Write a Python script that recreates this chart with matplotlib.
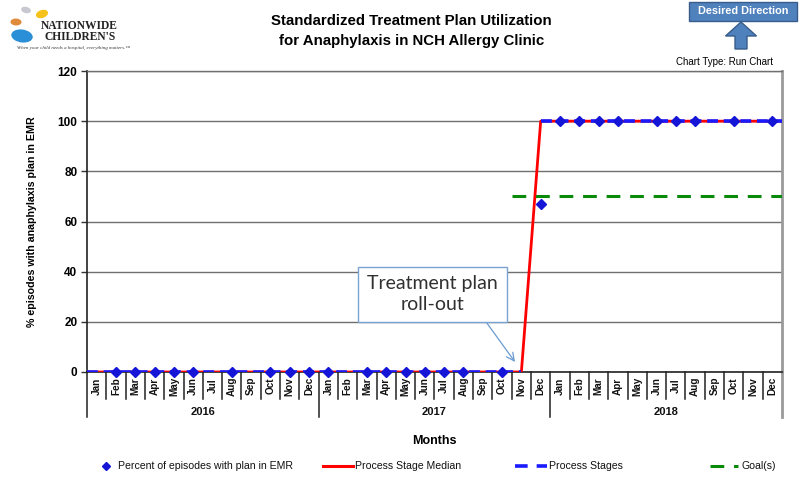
import numpy as np
import matplotlib
matplotlib.use("Agg")
import matplotlib.pyplot as plt
from matplotlib.lines import Line2D
from matplotlib.patches import FancyBboxPatch, Ellipse, FancyArrow
import matplotlib.transforms as mtrans

nan = np.nan
month_names = ['Jan', 'Feb', 'Mar', 'Apr', 'May', 'Jun',
               'Jul', 'Aug', 'Sep', 'Oct', 'Nov', 'Dec']
years = ['2016', '2017', '2018']
month_labels = month_names * len(years)

# Percent of episodes with plan in EMR
pct = [nan, 0, 0, 0, 0, 0, nan, 0, nan, 0, 0, 0,
       0, nan, 0, 0, 0, 0, 0, 0, nan, 0, nan, 67,
       100, 100, 100, 100, nan, 100, 100, 100, nan, 100, nan, 100]
# Process stage median
median = [0, 0, 0, 0, 0, 0, 0, 0, 0, 0, 0, 0,
          0, 0, 0, 0, 0, 0, 0, 0, 0, 0, 0, 100,
          100, 100, 100, 100, 100, 100, 100, 100, 100, 100, 100, 100]
# Process stage id for each month
stage_id = [1] * 23 + [2] * 13
# Goal
goal = [nan, nan, nan, nan, nan, nan, nan, nan, nan, nan, nan, nan,
        nan, nan, nan, nan, nan, nan, nan, nan, nan, nan, 70, 70,
        70, 70, 70, 70, 70, 70, 70, 70, 70, 70, 70, 70]

legend_labels = ['Percent of episodes with plan in EMR', 'Process Stage Median',
                 'Process Stages', 'Goal(s)']

sans = ['Liberation Sans', 'DejaVu Sans']

n = len(month_labels)
x = np.arange(n)
xlo, xhi = -0.5, n - 0.5

RED = '#FF0000'
BLUE = '#1a1aff'
MARK = '#1515d8'
GREEN = '#0a8a0a'
BLUE_DASH = (0, (3.0, 1.6))
GREEN_DASH = (0, (4.5, 3.2))

fig = plt.figure(figsize=(8, 4.8), dpi=100)
ax = fig.add_axes([87 / 800, 1 - 372 / 480, (782 - 87) / 800, (372 - 71) / 480])
ax.set_xlim(xlo, xhi)
ax.set_ylim(0, 120)

# grid
ax.set_yticks(np.arange(0, 121, 20))
ax.yaxis.grid(True, color='#6f6f6f', lw=1.0)
ax.set_axisbelow(True)
ax.set_xticks([])
for lab in ax.get_yticklabels():
    lab.set_fontfamily(sans)
    lab.set_fontweight('bold')
    lab.set_fontsize(8.5)
ax.tick_params(axis='y', length=4, width=1, color='#333333', pad=3)
ax.spines['left'].set_color('#222222')
ax.spines['left'].set_linewidth(1.2)
ax.spines['bottom'].set_color('#222222')
ax.spines['bottom'].set_linewidth(1.2)
ax.spines['right'].set_color('#9a9a9a')
ax.spines['right'].set_linewidth(2)
ax.spines['top'].set_color('#6f6f6f')
ax.spines['top'].set_linewidth(1.0)

# Process stage median (red), extended to plot edges
med = np.array(median, float)
ax.plot(np.r_[xlo, x, xhi], np.r_[med[0], med, med[-1]], color=RED, lw=2, zorder=3,
        solid_capstyle='butt')

# Process stages (blue dashed), one segment per stage
sid = np.array(stage_id)
stages = list(dict.fromkeys(stage_id))
for k, s in enumerate(stages):
    idx = np.where(sid == s)[0]
    xs = x[idx].astype(float)
    ys = med[idx]
    if k == 0:
        xs = np.r_[xlo, xs]
        ys = np.r_[ys[0], ys]
    if k == len(stages) - 1:
        xs = np.r_[xs, xhi]
        ys = np.r_[ys, ys[-1]]
    ax.plot(xs, ys, color=BLUE, lw=2.6, ls=BLUE_DASH, zorder=4)

# Goal (green dashed)
g = np.array(goal, float)
gidx = np.where(~np.isnan(g))[0]
ax.plot(np.r_[gidx[0] - 0.5, x[gidx], xhi], np.r_[g[gidx[0]], g[gidx], g[gidx[-1]]],
        color=GREEN, lw=2.2, ls=GREEN_DASH, zorder=3)

# data points
ax.plot(x, pct, ls='none', marker='D', ms=4.6, color=MARK, mec=MARK, zorder=5,
        clip_on=False)

# x axis month cells
tr = mtrans.blended_transform_factory(ax.transData, ax.transAxes)
for i in range(n + 1):
    b = i - 0.5
    yb = -0.15 if i % 12 == 0 else -0.09
    if i == n:
        ax.plot([b, b], [0, yb], transform=tr, color='#9a9a9a', lw=2, clip_on=False)
    else:
        ax.plot([b, b], [0, yb], transform=tr, color='#222222', lw=1.1, clip_on=False)
for i, m in enumerate(month_labels):
    ax.text(i, -0.047, m, transform=tr, rotation=90, ha='center', va='center',
            fontsize=7.2, fontweight='bold', family=sans, color='#111111')
for j, yr in enumerate(years):
    ax.text(12 * j + 5.5, -0.133, yr, transform=tr, ha='center', va='center',
            fontsize=8, fontweight='bold', family=sans, color='#111111')
ax.text(0.5, -0.228, 'Months', transform=ax.transAxes, ha='center', va='center',
        fontsize=9, fontweight='bold', family=sans)

fig.text(32 / 800, 1 - 222 / 480, '% episodes with anaphylaxis plan in EMR', rotation=90,
         ha='center', va='center', fontsize=7.7, fontweight='bold', family=sans)

# callout
ax.annotate('Treatment plan\nroll-out', xy=(21.67, 4.0), xytext=(17.4, 31.0),
            ha='center', va='center', fontsize=14, family=['Lato', 'DejaVu Sans'],
            color='#303030', linespacing=1.25,
            bbox=dict(boxstyle='square,pad=0.45', fc='white', ec='#7aa3d4', lw=1),
            arrowprops=dict(arrowstyle='->', color='#6a9bd1', lw=0.9, relpos=(0.86, 0.0),
                            shrinkA=0, shrinkB=0),
            zorder=6)

# Title
fig.text(0.514, 1 - 31 / 480, 'Standardized Treatment Plan Utilization\nfor Anaphylaxis in NCH Allergy Clinic',
         ha='center', va='center', fontsize=10.8, fontweight='bold', family=sans,
         linespacing=1.5)

# Desired direction box + arrow
fig.patches.append(FancyBboxPatch((689 / 800, 1 - 21 / 480), 108 / 800, 19 / 480,
                                  boxstyle='square,pad=0', transform=fig.transFigure,
                                  fc='#4f81bd', ec='#385d8a', lw=1))
fig.text(743 / 800, 1 - 11 / 480, 'Desired Direction', ha='center', va='center', color='white',
         fontsize=7.8, fontweight='bold', family=sans)
fig.patches.append(FancyArrow(741 / 800, 1 - 49 / 480, 0, 27 / 480, width=12 / 800,
                              head_width=31 / 800, head_length=14 / 480,
                              length_includes_head=True, transform=fig.transFigure,
                              fc='#4f81bd', ec='#385d8a', lw=1))
fig.text(724 / 800, 1 - 62 / 480, 'Chart Type: Run Chart', ha='center', va='center',
         fontsize=7, family=sans)

# Logo (approximation)
for (cx, cy, w, h, ang, col) in [(22, 36, 20, 14, 40, '#2a8fd6'), (16, 22, 11, 7, 20, '#e08a3c'),
                                 (42, 14, 11, 9, -30, '#f5c21b'), (26, 10, 9, 7, 30, '#c8c8d0')]:
    fig.patches.append(Ellipse((cx / 800, 1 - cy / 480), w / 800, h / 480, angle=ang,
                               transform=fig.transFigure, fc=col, ec='none'))
fig.text(79 / 800, 1 - 26 / 480, 'NATIONWIDE', ha='center', va='center', fontsize=8.3,
         fontweight='bold', family=['Liberation Serif', 'DejaVu Serif'], color='#222222')
fig.text(80 / 800, 1 - 37 / 480, "CHILDREN'S", ha='center', va='center', fontsize=8.3,
         fontweight='bold', family=['Liberation Serif', 'DejaVu Serif'], color='#222222')
fig.text(74 / 800, 1 - 48 / 480, 'When your child needs a hospital, everything matters.\u2122',
         ha='center', va='center', fontsize=3.6, style='italic',
         family=['Liberation Serif', 'DejaVu Serif'], color='#333333')

# Legend (placed manually in figure pixels)
ly = 1 - 466 / 480
F = fig.transFigure
fig.add_artist(Line2D([106 / 800], [ly], ls='none', marker='D', ms=4, color=MARK, transform=F))
fig.add_artist(Line2D([323 / 800, 353 / 800], [ly, ly], color=RED, lw=2.2, transform=F))
fig.add_artist(Line2D([515 / 800, 547 / 800], [ly, ly], color=BLUE, lw=2.6, ls=(0, (3.5, 2.5)),
                      transform=F))
fig.add_artist(Line2D([710 / 800, 738 / 800], [ly, ly], color=GREEN, lw=2.2, ls=(0, (4.5, 3.2)),
                      transform=F))
for xpix, lab in zip([118, 355, 549, 741], legend_labels):
    fig.text(xpix / 800, ly, lab, ha='left', va='center', fontsize=7.6, family=sans,
             color='#111111')

fig.savefig('out.png', dpi=100)
